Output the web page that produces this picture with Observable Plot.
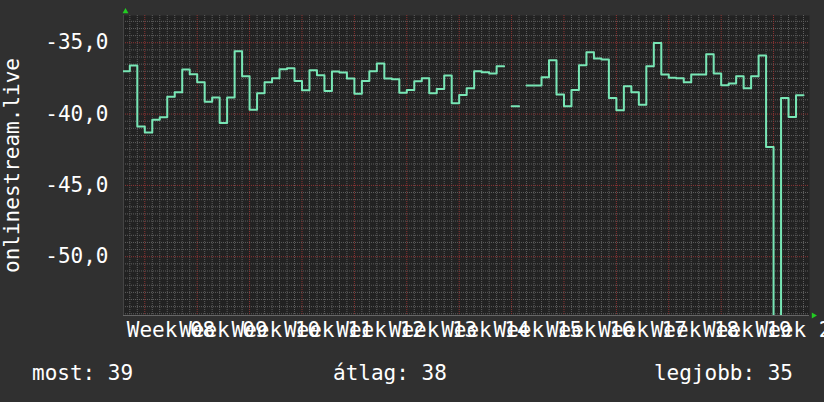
<!DOCTYPE html>
<html>
<head>
<meta charset="utf-8">
<script src="https://cdn.jsdelivr.net/npm/d3@7"></script>
<script src="https://cdn.jsdelivr.net/npm/@observablehq/plot@0.6"></script>
<style>
  html, body { margin: 0; padding: 0; background: #303030; width: 824px; height: 402px; overflow: hidden; }
</style>
</head>
<body>
<div id="chart"></div>
<script>
// ---- data (daily values; day 0 = Monday of Week 08) ----
const firstDay = -3;
const values = [
  -37.0, -36.6, -40.87,
  -41.3, -40.4, -40.23, -38.78, -38.47, -36.88, -37.2,
  -37.77, -39.13, -38.83, -40.63, -38.83, -35.59, -37.35,
  -39.7, -38.54, -37.77, -37.49, -36.85, -36.78, -37.68,
  -38.33, -36.92, -37.28, -38.38, -37.02, -37.09, -37.51,
  -38.57, -37.68, -37.0, -36.46, -37.51, -37.56, -38.5,
  -38.31, -37.7, -37.49, -38.54, -38.24, -37.3, -39.25,
  -38.66, -38.19, -37.0, -37.07, -37.16, -36.64, NaN,
  -39.46, NaN, -38.0, -38.0, -37.42, -36.22, -38.62,
  -39.46, -38.31, -36.57, -35.66, -36.1, -36.17, -38.87,
  -39.74, -38.05, -38.47, -39.34, -36.64, -35.02, -37.23,
  -37.46, -37.49, -37.77, -37.23, -37.23, -35.8, -37.16,
  -37.98, -37.86, -37.35, -38.19, -37.35, -35.89, -42.3,
  -58.0, -38.87, -40.2, -38.68
];
const weekLabels = ["Week 08","Week 09","Week 10","Week 11","Week 12","Week 13","Week 14",
                    "Week 15","Week 16","Week 17","Week 18","Week 19","Week 20"];
const yTicks = [-50, -45, -40, -35];
const yTitle = "onlinestream.live";
const footer = { most: "most: 39", atlag: "átlag: 38", legjobb: "legjobb: 35" };

// ---- derived ----
const xDomain = [-2.845, 88.8];
const yDomain = [-54.12, -33.09];
const days = values.map((v, i) => firstDay + i);
const pts = [];
days.forEach((d, i) => { pts.push({x: d, y: values[i]}, {x: d + 1, y: values[i]}); });
const weeks = weekLabels.map((t, k) => ({t, start: k * 7, mid: k * 7 + 3.5}));
const minorX = d3.range(Math.ceil(xDomain[0]), xDomain[1]).filter(d => d % 7 !== 0);
const majorX = d3.range(0, xDomain[1], 7);
const minorY = d3.range(-54, -33, 0.5).filter(v => v % 5 !== 0);
const fmt = v => v.toFixed(1).replace(".", ",");

const FONT = "DejaVu Sans Mono";
const FS = 21;
const minorColor = "#5e5e5e";
const majorColor = "#8e3434";

const chart = Plot.plot({
  width: 824, height: 402,
  marginLeft: 123, marginRight: 15, marginTop: 15, marginBottom: 87,
  x: {domain: xDomain, axis: null},
  y: {domain: yDomain, axis: null},
  style: {background: "#303030", color: "white", fontFamily: FONT, fontSize: FS + "px"},
  marks: [
    Plot.frame({fill: "#222222", stroke: null}),
    Plot.ruleY(minorY, {stroke: minorColor, strokeDasharray: "1,1"}),
    Plot.ruleX(minorX, {stroke: minorColor, strokeDasharray: "1,1"}),
    Plot.ruleY(yTicks, {stroke: majorColor, strokeDasharray: "1,1"}),
    Plot.ruleX(majorX, {stroke: majorColor, strokeDasharray: "1,1"}),
    Plot.ruleY([yDomain[0]], {stroke: "#666"}),
    Plot.ruleX([xDomain[0]], {stroke: "#444"}),
    Plot.line(pts, {x: "x", y: "y", stroke: "#78e6b5", strokeWidth: 2, clip: true}),
    // axis arrows
    Plot.dot([0], {frameAnchor: "top-left", dx: 2, dy: -4, symbol: "triangle", r: 2.2, fill: "#22cc22", stroke: null}),
    Plot.dot([0], {frameAnchor: "bottom-right", dx: 4, dy: 0, symbol: "triangle", rotate: 90, r: 2.2, fill: "#22cc22", stroke: null}),
    // y tick labels
    Plot.text(yTicks, {y: d => d, text: fmt, frameAnchor: "left", dx: -15, textAnchor: "end",
      lineAnchor: "middle", fill: "white", fontFamily: FONT, fontSize: FS}),
    // x labels
    Plot.text(weeks, {x: "mid", text: "t", frameAnchor: "bottom", dy: 15, lineAnchor: "middle",
      fill: "white", fontFamily: FONT, fontSize: FS}),
    // y title
    Plot.text([yTitle], {frameAnchor: "left", dx: -111, rotate: -90, textAnchor: "middle",
      lineAnchor: "middle", fill: "white", fontFamily: FONT, fontSize: FS}),
    // footer
    Plot.text([footer.most], {frameAnchor: "bottom-left", dx: -91.5, dy: 58, textAnchor: "start",
      lineAnchor: "middle", fill: "white", fontFamily: FONT, fontSize: FS}),
    Plot.text([footer.atlag], {frameAnchor: "bottom-left", dx: 209.5, dy: 58, textAnchor: "start",
      lineAnchor: "middle", fill: "white", fontFamily: FONT, fontSize: FS}),
    Plot.text([footer.legjobb], {frameAnchor: "bottom-right", dx: -16.5, dy: 58, textAnchor: "end",
      lineAnchor: "middle", fill: "white", fontFamily: FONT, fontSize: FS})
  ]
});
document.getElementById("chart").appendChild(chart);
</script>
</body>
</html>
